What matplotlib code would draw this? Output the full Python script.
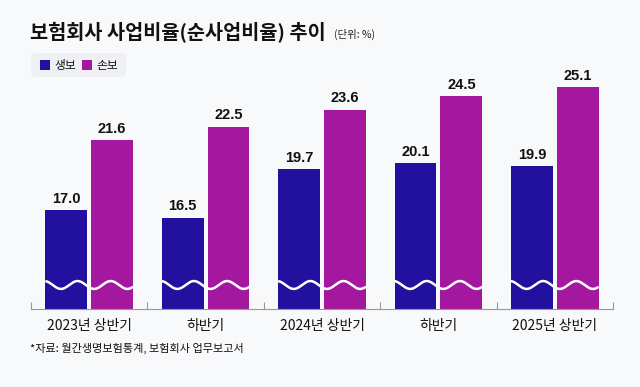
import matplotlib
matplotlib.use("Agg")
import matplotlib.pyplot as plt
import numpy as np
from matplotlib.patches import FancyBboxPatch, Rectangle

plt.rcParams['font.family'] = ['Noto Sans CJK KR', 'DejaVu Sans']

categories = ["2023년 상반기", "하반기", "2024년 상반기", "하반기", "2025년 상반기"]
life = [17.0, 16.5, 19.7, 20.1, 19.9]
nonlife = [21.6, 22.5, 23.6, 24.5, 25.1]
series_names = ["생보", "손보"]
colors = ["#22119e", "#a3189f"]
bg = "#f8f9fb"

fig = plt.figure(figsize=(6.4, 3.87), dpi=100, facecolor=bg)
ax = fig.add_axes([31/640, 78/387, (613-31)/640, (309-60)/387], facecolor=bg)

ymin = 10.5
ax.set_ylim(ymin, ymin + 249/15.2)
x = np.arange(len(categories))
ax.set_xlim(-0.5, len(categories) - 0.5)
w = 0.36
off = 0.197

for vals, o, c in [(life, -off, colors[0]), (nonlife, off, colors[1])]:
    ax.bar(x + o, np.array(vals) - ymin, bottom=ymin, width=w, color=c, zorder=2)
    for xi, v in zip(x + o, vals):
        ax.text(xi, v + 0.3, f"{v:.1f}", ha="center", va="bottom",
                fontsize=10.5, fontweight="bold", color="#111111",
                family=["Liberation Sans", "DejaVu Sans"], zorder=4)

# wavy break line across each group
period = 0.285
for xi in x:
    xs = np.linspace(xi - off - w/2, xi + off + w/2, 300)
    ys = 12.08 + 0.26 * np.cos((xs - (xi - 0.10)) * 2*np.pi / period)
    ax.plot(xs, ys, color="white", lw=1.8, zorder=3, solid_capstyle="butt")

for s in ["top", "right", "left"]:
    ax.spines[s].set_visible(False)
ax.spines["bottom"].set_color("#999999")
ax.spines["bottom"].set_linewidth(0.8)
ax.set_yticks([])
ax.set_xticks(np.arange(-0.5, len(categories)), minor=True)
ax.tick_params(axis="x", which="minor", length=5, direction="in", color="#999999", width=0.8)
ax.tick_params(axis="x", which="major", length=0, pad=7)
ax.set_xticks(x)
ax.set_xticklabels(categories, fontsize=10, color="#111111")

fig.text(30/640, 1 - 33/387, "보험회사 사업비율(순사업비율) 추이", fontsize=14.2,
         fontweight="bold", va="center", ha="left", color="#111111")
fig.text(334/640, 1 - 34/387, "(단위: %)", fontsize=7.5, va="center", ha="left", color="#222222")

# legend
lg = FancyBboxPatch((31/640, 1 - 77/387), 95/640, 24/387,
                    boxstyle="round,pad=0,rounding_size=0.01",
                    transform=fig.transFigure, facecolor="#eef0f3", edgecolor="none")
fig.patches.append(lg)
for (lx, name, c) in [(40, series_names[0], colors[0]), (82, series_names[1], colors[1])]:
    fig.patches.append(Rectangle((lx/640, 1 - 70/387), 10/640, 10/387,
                                 transform=fig.transFigure, facecolor=c, edgecolor="none"))
    fig.text((lx + 14)/640, 1 - 65/387, name, fontsize=8.5, va="center", ha="left", color="#111111")

fig.text(30/640, 1 - 348/387, "*자료: 월간생명보험통계, 보험회사 업무보고서", fontsize=8,
         va="center", ha="left", color="#111111")

fig.savefig("out.png", dpi=100, facecolor=bg)
